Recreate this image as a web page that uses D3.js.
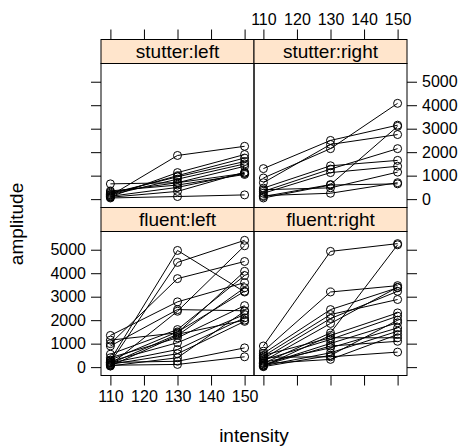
<!DOCTYPE html>
<html>
<head>
<meta charset="utf-8">
<script src="https://cdn.jsdelivr.net/npm/d3@7"></script>
<style>
  html, body { margin: 0; padding: 0; background: #fff; }
  svg { display: block; font-family: "Liberation Sans", Arial, sans-serif; }
</style>
</head>
<body>
<svg id="chart" width="469" height="448"></svg>
<script>
// Stimulus intensities shared by every subject
const intensities = [110, 130, 150];
const xTicks = [110, 120, 130, 140, 150];
const yTicks = [0, 1000, 2000, 3000, 4000, 5000];

// Amplitude per subject at 110 / 130 / 150
const stutterLeft = [
  [650, 700, 1100],
  [150, 1860, 2250],
  [100, 1130, 1900],
  [200, 1000, 1750],
  [250, 950, 1600],
  [180, 850, 1500],
  [300, 700, 1400],
  [120, 500, 1100],
  [80, 330, 1150],
  [50, 110, 180],
  [350, 600, 1050]
];
const stutterRight = [
  [1300, 2500, 3150],
  [900, 2150, 4080],
  [700, 2330, 2750],
  [470, 1420, 1650],
  [330, 1280, 2150],
  [110, 620, 3100],
  [250, 1130, 1400],
  [50, 600, 650],
  [150, 250, 700],
  [400, 480, 1150]
];
const fluentLeft = [
  [300, 4970, 3200],
  [200, 4460, 5400],
  [1000, 3770, 4500],
  [1350, 2780, 3600],
  [900, 2450, 2400],
  [100, 2380, 5170],
  [550, 1600, 3900],
  [1150, 1460, 4080],
  [50, 1350, 3380],
  [400, 1250, 2620],
  [250, 1040, 2240],
  [180, 750, 2100],
  [120, 570, 1950],
  [50, 400, 2380],
  [200, 250, 820],
  [80, 115, 440],
  [300, 1500, 3230],
  [150, 1400, 2000]
];
const fluentRight = [
  [900, 4930, 5260],
  [680, 3200, 3470],
  [580, 2450, 3380],
  [470, 2240, 2880],
  [360, 2070, 3230],
  [255, 1860, 3400],
  [160, 1460, 5210],
  [40, 1350, 2310],
  [300, 1180, 2170],
  [100, 1010, 1890],
  [200, 820, 1670],
  [60, 610, 1530],
  [420, 440, 640],
  [150, 330, 1390],
  [500, 1250, 1250],
  [80, 900, 1100],
  [20, 500, 2000]
];

const panels = [
  { label: "stutter:left",  row: 0, col: 0, data: stutterLeft },
  { label: "stutter:right", row: 0, col: 1, data: stutterRight },
  { label: "fluent:left",   row: 1, col: 0, data: fluentLeft },
  { label: "fluent:right",  row: 1, col: 1, data: fluentRight }
];

// Layout
const left = 101, colW = 153;
const top0 = 39.5, stripH = 24, panelH = 144;
const tickLen = 10;
const tickFont = 16, labelFont = 19;

const svg = d3.select("#chart");

// Shared scales with lattice-style 7% padding
const xExt = d3.extent(intensities);
const xPad = (xExt[1] - xExt[0]) * 0.07;
const x = d3.scaleLinear().domain([xExt[0] - xPad, xExt[1] + xPad]).range([0, colW]);

const allVals = panels.flatMap(p => p.data.flat());
const yExt = d3.extent(allVals);
const yPad = (yExt[1] - yExt[0]) * 0.07;
const y = d3.scaleLinear().domain([yExt[0] - yPad, yExt[1] + yPad]).range([panelH, 0]);

function rowTop(r) { return top0 + r * (stripH + panelH); }

panels.forEach(p => {
  const gx = left + p.col * colW;
  const gy = rowTop(p.row);
  const g = svg.append("g").attr("transform", `translate(${gx},${gy})`);

  // strip
  g.append("rect").attr("x", 0).attr("y", 0).attr("width", colW).attr("height", stripH)
    .attr("fill", "#ffe5cc").attr("stroke", "#000").attr("stroke-width", 1);
  g.append("text").attr("x", colW / 2).attr("y", stripH / 2).attr("dy", "0.36em")
    .attr("text-anchor", "middle").attr("font-size", labelFont).text(p.label);

  const pg = g.append("g").attr("transform", `translate(0,${stripH})`);

  const line = d3.line().x((d, i) => x(intensities[i])).y(d => y(d));
  p.data.forEach(s => {
    pg.append("path").attr("d", line(s)).attr("fill", "none")
      .attr("stroke", "#000").attr("stroke-width", 1);
  });
  p.data.forEach(s => {
    pg.selectAll(null).data(s).enter().append("circle")
      .attr("cx", (d, i) => x(intensities[i])).attr("cy", d => y(d)).attr("r", 4)
      .attr("fill", "none").attr("stroke", "#000").attr("stroke-width", 1);
  });

  pg.append("rect").attr("x", 0).attr("y", 0).attr("width", colW).attr("height", panelH)
    .attr("fill", "none").attr("stroke", "#000").attr("stroke-width", 1);

  // y axis: left column on the left, right column on the right
  if (p.col === 0) {
    const ax = d3.axisLeft(y).tickValues(yTicks).tickSizeOuter(0).tickSizeInner(tickLen).tickPadding(5)
      .tickFormat(p.row === 1 ? d3.format("d") : () => "");
    pg.append("g").call(ax).call(styleAxis);
  } else {
    const ax = d3.axisRight(y).tickValues(yTicks).tickSizeOuter(0).tickSizeInner(tickLen).tickPadding(5)
      .tickFormat(p.row === 0 ? d3.format("d") : () => "");
    pg.append("g").attr("transform", `translate(${colW},0)`).call(ax).call(styleAxis);
  }

  // x axis: top ticks above top strips, bottom ticks below bottom panels
  if (p.row === 0) {
    const ax = d3.axisTop(x).tickValues(xTicks).tickSizeOuter(0).tickSizeInner(tickLen).tickPadding(5)
      .tickFormat(p.col === 1 ? d3.format("d") : () => "");
    g.append("g").call(ax).call(styleAxis);
  } else {
    const ax = d3.axisBottom(x).tickValues(xTicks).tickSizeOuter(0).tickSizeInner(tickLen).tickPadding(5)
      .tickFormat(p.col === 0 ? d3.format("d") : () => "");
    pg.append("g").attr("transform", `translate(0,${panelH})`).call(ax).call(styleAxis);
  }
});

function styleAxis(sel) {
  sel.select(".domain").remove();
  sel.selectAll("line").attr("stroke", "#000");
  sel.selectAll("text").attr("fill", "#000").attr("font-size", tickFont)
    .attr("font-family", "'Liberation Sans', Arial, sans-serif");
}

// Axis titles
const bottomEdge = rowTop(1) + stripH + panelH;
svg.append("text").attr("x", left + colW).attr("y", 442)
  .attr("text-anchor", "middle").attr("font-size", labelFont).text("intensity");
svg.append("text").attr("transform", `translate(23,224) rotate(-90)`)
  .attr("text-anchor", "middle").attr("font-size", labelFont).text("amplitude");
</script>
</body>
</html>
